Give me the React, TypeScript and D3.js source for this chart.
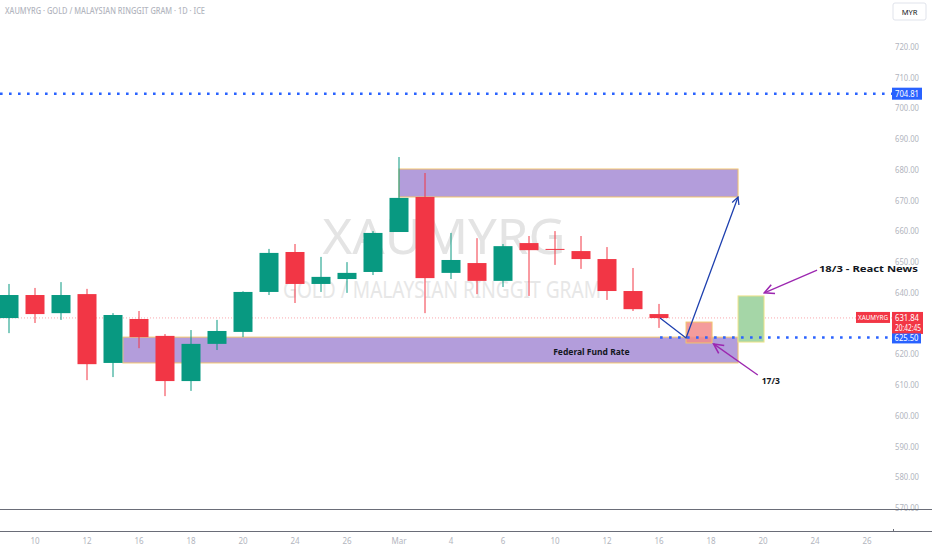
import * as d3 from 'd3'

// daily candles (index = trading-day slot)
const opens = [631.8, 639.3, 633.4, 639.6, 617.2, 631.5, 626.0, 611.3, 623.4, 627.3, 640.3, 653.3, 642.9, 644.5, 646.8, 659.8, 671.2, 646.5, 649.7, 643.9, 656.2, 654.3, 653.6, 651.0, 640.6, 633.1]
const highs = [642.9, 641.6, 643.5, 641.3, 633.4, 634.1, 626.6, 627.9, 631.2, 640.5, 654.3, 655.9, 651.7, 650.0, 660.1, 684.2, 679.0, 659.5, 657.8, 655.9, 658.5, 660.1, 658.5, 654.9, 648.1, 636.4]
const lows = [626.9, 630.2, 631.2, 611.6, 612.6, 622.0, 606.4, 608.1, 621.4, 625.6, 639.3, 636.7, 640.3, 640.0, 645.8, 659.8, 633.4, 644.5, 639.6, 641.9, 639.0, 649.1, 647.8, 637.7, 634.1, 628.6]
const closes = [639.3, 633.1, 639.3, 616.8, 632.8, 625.6, 611.3, 623.4, 627.6, 640.3, 653.0, 642.9, 645.2, 646.5, 659.5, 670.9, 644.8, 650.7, 643.9, 655.2, 653.9, 654.0, 651.0, 640.6, 634.7, 631.8]

const xTickLabels = ['10', '12', '16', '18', '20', '24', '26', 'Mar', '4', '6', '10', '12', '16', '18', '20', '24', '26']
const xTickIndex = [1, 3, 5, 7, 9, 11, 13, 15, 17, 19, 21, 23, 25, 27, 29, 31, 33]
const yTicks = [570, 580, 590, 600, 610, 620, 640, 650, 660, 670, 680, 690, 700, 710, 720]

const lastPrice = 631.84
const resistance = 704.81
const fedLevel = 625.5

const W = 932
const H = 550
const plotRight = 892
const plotBottom = 509

const GREEN = '#089981'
const RED = '#f23645'
const BLUE = '#2962ff'
const PURPLE = '#9c27b0'
const font = '"Noto Sans", "Liberation Sans", sans-serif'

export default function App() {
  const x = d3.scaleLinear().domain([0, 33]).range([9, 867])
  const y = d3.scaleLinear().domain([570, 720]).range([508, 47])
  const bw = 19

  const arrowUp: [number, number][] = [[25.04, 631.8], [26.04, 625.3], [28.04, 671.2]]
  const line = d3.line<[number, number]>().x(d => x(d[0])).y(d => y(d[1]))

  return (
    <svg width={W} height={H} style={{ position: 'fixed', left: 0, top: 0, background: '#fff' }} fontFamily={font}>
      <defs>
        <marker id="ab" viewBox="0 0 10 10" refX="9" refY="5" markerWidth="9" markerHeight="9" orient="auto-start-reverse" markerUnits="userSpaceOnUse">
          <path d="M1,1 L9,5 L1,9" fill="none" stroke="#1e40af" strokeWidth="1.4" />
        </marker>
        <marker id="ap" viewBox="0 0 10 10" refX="9" refY="5" markerWidth="12" markerHeight="12" orient="auto-start-reverse" markerUnits="userSpaceOnUse">
          <path d="M1,1 L9,5 L1,9" fill="none" stroke={PURPLE} strokeWidth="1.3" />
        </marker>
        <clipPath id="plot"><rect x={0} y={0} width={plotRight} height={plotBottom} /></clipPath>
      </defs>

      <text x={5} y={14} fontSize={8.5} fill="#b2b5be" fontWeight={500} textLength={200} lengthAdjust="spacingAndGlyphs">
        XAUMYRG · GOLD / MALAYSIAN RINGGIT GRAM · 1D · ICE
      </text>

      {/* watermark */}
      <text x={444} y={254} textAnchor="middle" fontSize={50} fill="#e4e4e4" textLength={243} lengthAdjust="spacingAndGlyphs">XAUMYRG</text>
      <text x={442} y={298} textAnchor="middle" fontSize={24} fill="#e7e7e7" textLength={318} lengthAdjust="spacingAndGlyphs">GOLD / MALAYSIAN RINGGIT GRAM</text>

      <g clipPath="url(#plot)">
        {/* zones */}
        <rect x={x(15)} y={y(680.3)} width={x(28.04) - x(15)} height={y(671.2) - y(680.3)} fill="#b39ddb" stroke="#f2c46d" strokeWidth={1} />
        <rect x={x(4.38)} y={y(625.6)} width={x(28.04) - x(4.38)} height={y(617.2) - y(625.6)} fill="#b39ddb" stroke="#f2c46d" strokeWidth={1} />
        <text x={x(22.4)} y={y(617.2) - 8} textAnchor="middle" fontSize={8.5} fontWeight={700} fill="#131722">Federal Fund Rate</text>

        {/* last price line */}
        <line x1={0} x2={plotRight} y1={y(lastPrice)} y2={y(lastPrice)} stroke={RED} strokeOpacity={0.55} strokeWidth={0.8} strokeDasharray="1,2" />

        {/* candles */}
        {opens.map((o, i) => {
          const c = closes[i]
          const col = c >= o ? GREEN : RED
          const top = y(Math.max(o, c))
          const h = Math.max(1, y(Math.min(o, c)) - top)
          return (
            <g key={i}>
              <line x1={x(i)} x2={x(i)} y1={y(highs[i])} y2={y(lows[i])} stroke={col} strokeWidth={1} />
              <rect x={x(i) - bw / 2} y={top} width={bw} height={h} fill={col} />
            </g>
          )
        })}

        {/* projected candles */}
        <rect x={x(26.04)} y={y(630.5)} width={x(27.04) - x(26.04)} height={y(623.7) - y(630.5)} fill="#f28b8b" fillOpacity={0.85} stroke="#f2c46d" strokeWidth={1} />
        <rect x={x(28.04)} y={y(639.0)} width={x(29.04) - x(28.04)} height={y(624.0) - y(639.0)} fill="#a5d6a7" stroke="#f0e38a" strokeWidth={1} />

        {/* key levels */}
        <line x1={0} x2={plotRight} y1={y(resistance)} y2={y(resistance)} stroke={BLUE} strokeWidth={2.6} strokeDasharray="2.6,6.4" />
        <line x1={x(25.04)} x2={plotRight} y1={y(fedLevel)} y2={y(fedLevel)} stroke={BLUE} strokeWidth={2.6} strokeDasharray="2.6,6.4" />

        {/* arrows */}
        <path d={line(arrowUp) ?? ''} fill="none" stroke="#1e40af" strokeWidth={1.3} markerEnd="url(#ab)" />
        <line x1={x(31.08)} y1={y(647.4)} x2={x(29.05)} y2={y(640.0)} stroke={PURPLE} strokeWidth={1.3} markerEnd="url(#ap)" />
        <line x1={x(28.8)} y1={y(613.3)} x2={x(27.1)} y2={y(623.4)} stroke={PURPLE} strokeWidth={1.3} markerEnd="url(#ap)" />
        <text x={x(28.95)} y={y(611.5) + 4} fontSize={8.5} fontWeight={700} fill="#131722">17/3</text>
      </g>
      <text x={x(31.15)} y={y(648) + 4} fontSize={8.5} fontWeight={700} fill="#131722" textLength={99} lengthAdjust="spacingAndGlyphs">18/3 - React News</text>

      {/* right price axis */}
      <rect x={893} y={3} width={33} height={17} fill="#fff" stroke="#e0e3eb" rx={2} />
      <text x={909.5} y={15} textAnchor="middle" fontSize={7.5} fill="#131722">MYR</text>
      {yTicks.map(t => (
        <text key={t} x={895} y={y(t) + 3} fontSize={8} fill="#b2b5be" textLength={24} lengthAdjust="spacingAndGlyphs">{t.toFixed(2)}</text>
      ))}

      <rect x={892} y={y(resistance) - 6} width={30} height={12} fill={BLUE} />
      <text x={907} y={y(resistance) + 3} textAnchor="middle" fontSize={8} fill="#fff" textLength={24} lengthAdjust="spacingAndGlyphs">{resistance.toFixed(2)}</text>

      <rect x={856} y={y(lastPrice) - 6} width={34} height={11} fill={RED} />
      <text x={873} y={y(lastPrice) + 2.5} textAnchor="middle" fontSize={7.5} fill="#fff" textLength={30} lengthAdjust="spacingAndGlyphs">XAUMYRG</text>
      <rect x={892} y={y(lastPrice) - 6} width={31} height={22} fill={RED} />
      <text x={895} y={y(lastPrice) + 3} fontSize={8} fill="#fff" textLength={24} lengthAdjust="spacingAndGlyphs">{lastPrice.toFixed(2)}</text>
      <text x={895} y={y(lastPrice) + 13} fontSize={8} fill="#fff" textLength={26} lengthAdjust="spacingAndGlyphs">20:42:45</text>

      <rect x={892} y={y(fedLevel) - 4} width={29} height={10} fill={BLUE} />
      <text x={906.5} y={y(fedLevel) + 4} textAnchor="middle" fontSize={8} fill="#fff" textLength={24} lengthAdjust="spacingAndGlyphs">{fedLevel.toFixed(2)}</text>

      {/* bottom panes and time axis */}
      <line x1={0} x2={W} y1={plotBottom + 0.5} y2={plotBottom + 0.5} stroke="#6a6d78" strokeWidth={1} />
      <line x1={0} x2={W} y1={531.5} y2={531.5} stroke="#6a6d78" strokeWidth={1} />
      <line x1={893.5} x2={893.5} y1={529} y2={532} stroke="#6a6d78" strokeWidth={1} />
      {xTickLabels.map((l, k) => (
        <text key={k} x={x(xTickIndex[k])} y={544} textAnchor="middle" fontSize={8} fill="#b2b5be">{l}</text>
      ))}
    </svg>
  )
}
